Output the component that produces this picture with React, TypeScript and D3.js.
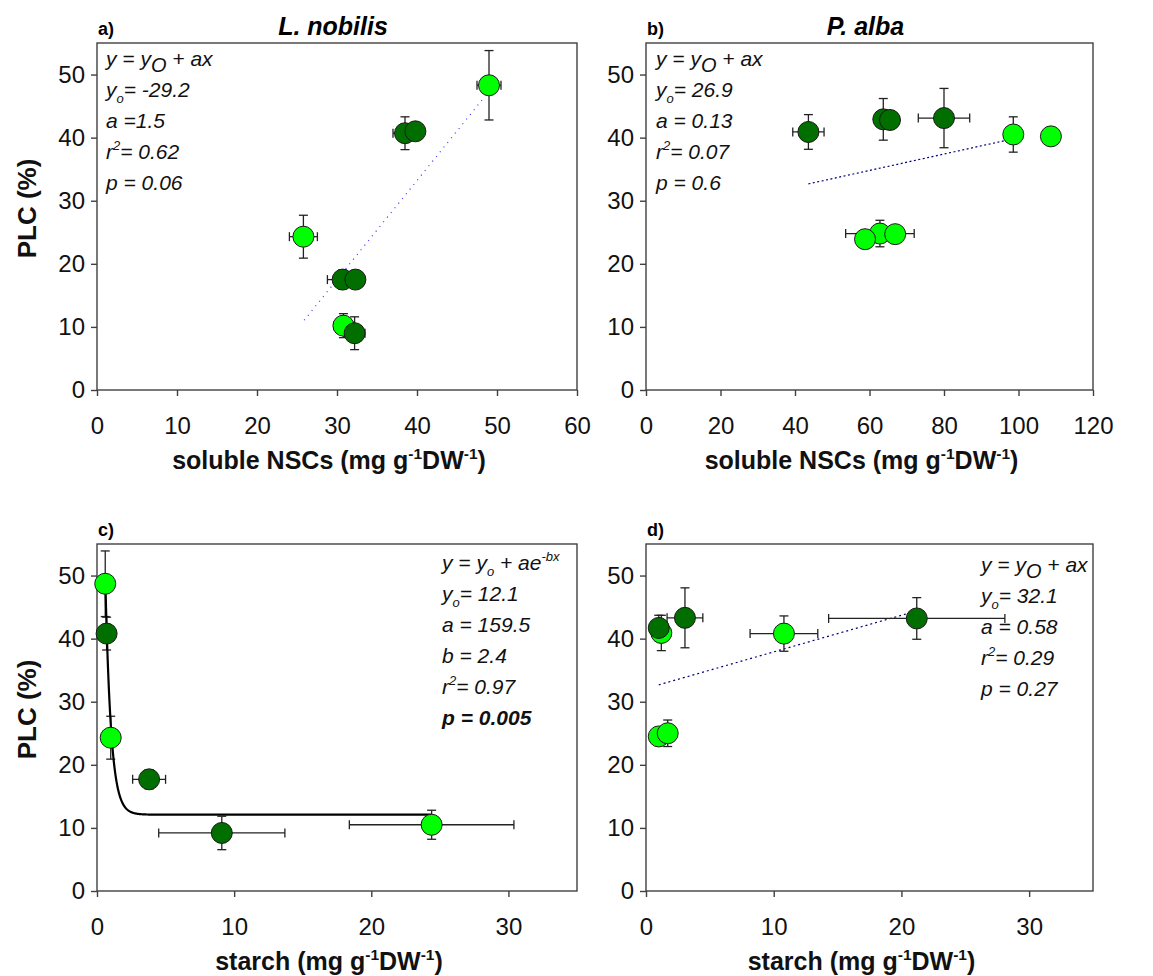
import React, { useEffect, useRef } from 'react';
import * as d3 from 'd3';

const LIGHT = '#00ff00';
const DARK = '#006f00';
const FONT = '"Liberation Sans", Arial, sans-serif';

// points: [x, y, xErr, yErr, group]  group 'l' = light green, 'd' = dark green
const nobilisNsc = [
  [49.0, 48.3, 1.5, 5.5, 'l'],
  [38.5, 40.7, 1.5, 2.6, 'd'],
  [39.8, 41.0, 0, 0, 'd'],
  [25.8, 24.3, 1.75, 3.4, 'l'],
  [30.7, 17.5, 1.9, 1.5, 'd'],
  [32.3, 17.5, 0, 0, 'd'],
  [30.8, 10.2, 1.2, 1.9, 'l'],
  [32.2, 9.0, 1.3, 2.6, 'd'],
];

const albaNsc = [
  [43.6, 40.9, 4.2, 2.75, 'd'],
  [63.7, 42.9, 2.2, 3.3, 'd'],
  [65.5, 42.8, 0, 0, 'd'],
  [80.0, 43.1, 6.9, 4.7, 'd'],
  [98.6, 40.5, 0, 2.8, 'l'],
  [108.7, 40.2, 0, 0, 'l'],
  [62.8, 24.8, 9.2, 2.1, 'l'],
  [58.8, 23.9, 0, 0, 'l'],
  [66.9, 24.7, 0, 0, 'l'],
];

const nobilisStarch = [
  [0.6, 48.7, 0, 5.2, 'l'],
  [0.7, 40.8, 0, 2.6, 'd'],
  [1.0, 24.3, 0, 3.4, 'l'],
  [3.8, 17.7, 1.2, 1.5, 'd'],
  [9.1, 9.2, 4.6, 2.65, 'd'],
  [24.4, 10.5, 6.0, 2.3, 'l'],
];

const albaStarch = [
  [1.2, 40.9, 0, 2.8, 'l'],
  [1.0, 41.7, 0, 2.0, 'd'],
  [3.05, 43.3, 1.4, 4.75, 'd'],
  [10.8, 40.8, 2.65, 2.8, 'l'],
  [21.2, 43.2, 6.9, 3.3, 'd'],
  [1.0, 24.5, 0, 0, 'l'],
  [1.7, 25.0, 0, 2.1, 'l'],
];

// fitted models: [yo, a, b, xFrom, xTo]
const fitA = [-29.6, 1.57, 0, 25.9, 48.5];
const fitB = [27.0, 0.13, 0, 43.6, 98.6];
const fitC = [12.1, 159.5, 2.4, 0.6, 24.4];
const fitD = [32.1, 0.58, 0, 1.0, 21.2];

// annotation text, _{} small subscript, ~{} large subscript, ^{} superscript, ** bold line
const notesA = ['y = y~{O} + ax', 'y_{o}= -29.2', 'a =1.5', 'r^{2}= 0.62', 'p = 0.06'];
const notesB = ['y = y~{O} + ax', 'y_{o}= 26.9', 'a = 0.13', 'r^{2}= 0.07', 'p = 0.6'];
const notesC = ['y = y_{o} + ae^{-bx}', 'y_{o}= 12.1', 'a = 159.5', 'b = 2.4', 'r^{2}= 0.97', '**p = 0.005'];
const notesD = ['y = y~{O} + ax', 'y_{o}= 32.1', 'a = 0.58', 'r^{2}= 0.29', 'p = 0.27'];

const yTicks = [0, 10, 20, 30, 40, 50];
const nscTicksA = [0, 10, 20, 30, 40, 50, 60];
const nscTicksB = [0, 20, 40, 60, 80, 100, 120];
const starchTicks = [0, 10, 20, 30];

const panels = [
  { id: 'a)', title: 'L. nobilis', pts: nobilisNsc, fit: fitA, kind: 'lin', notes: notesA, noteX: 9, noteY: 23,
    box: [97, 43, 577, 390], xMax: 60, xTicks: nscTicksA, xTitle: 'soluble NSCs (mg g^{-1}DW^{-1})', yTitle: true,
    dots: { color: '#3a3aff', dash: '1,5' } },
  { id: 'b)', title: 'P. alba', pts: albaNsc, fit: fitB, kind: 'lin', notes: notesB, noteX: 10, noteY: 23,
    box: [646, 43, 1093, 390], xMax: 120, xTicks: nscTicksB, xTitle: 'soluble NSCs (mg g^{-1}DW^{-1})', yTitle: false,
    dots: { color: '#00007a', dash: '2,2.5' } },
  { id: 'c)', title: '', pts: nobilisStarch, fit: fitC, kind: 'exp', notes: notesC, noteX: 345, noteY: 26,
    box: [97, 544, 577, 891], xMax: 35, xTicks: starchTicks, xTitle: 'starch (mg g^{-1}DW^{-1})', yTitle: true,
    dots: null },
  { id: 'd)', title: '', pts: albaStarch, fit: fitD, kind: 'lin', notes: notesD, noteX: 335, noteY: 28,
    box: [646, 544, 1093, 891], xMax: 35, xTicks: starchTicks, xTitle: 'starch (mg g^{-1}DW^{-1})', yTitle: false,
    dots: { color: '#00007a', dash: '2,3' } },
];

const parseRich = (s) => {
  const parts = [];
  const re = /([_^~])\{([^}]*)\}/g;
  let last = 0;
  let m;
  while ((m = re.exec(s))) {
    if (m.index > last) parts.push({ t: s.slice(last, m.index), k: '' });
    parts.push({ t: m[2], k: m[1] });
    last = re.lastIndex;
  }
  if (last < s.length) parts.push({ t: s.slice(last), k: '' });
  return parts;
};

const addRich = (text, s, size) => {
  let shift = 0;
  parseRich(s).forEach(p => {
    let target = 0;
    let fs = size;
    if (p.k === '_') { target = size * 0.28; fs = size * 0.62; }
    if (p.k === '^') { target = -size * 0.42; fs = size * 0.62; }
    if (p.k === '~') { target = size * 0.28; fs = size * 0.95; }
    text.append('tspan').attr('dy', target - shift).attr('font-size', fs).text(p.t);
    shift = target;
  });
};

const App = () => {
  const ref = useRef(null);

  useEffect(() => {
    const svg = d3.select(ref.current);
    svg.selectAll('*').remove();

    panels.forEach(p => {
      const [x0, y0, x1, y1] = p.box;
      const x = d3.scaleLinear().domain([0, p.xMax]).range([x0, x1]);
      const y = d3.scaleLinear().domain([0, 55]).range([y1, y0]);
      const g = svg.append('g');

      // frame
      g.append('rect')
        .attr('x', x0).attr('y', y0).attr('width', x1 - x0).attr('height', y1 - y0)
        .attr('fill', 'none').attr('stroke', '#404040').attr('stroke-width', 1.4);

      const xAxis = g.append('g')
        .attr('transform', `translate(0,${y1})`)
        .call(d3.axisBottom(x).tickValues(p.xTicks).tickSize(6).tickPadding(21).tickFormat(d3.format('d')));
      const yAxis = g.append('g')
        .attr('transform', `translate(${x0},0)`)
        .call(d3.axisLeft(y).tickValues(yTicks).tickSize(6).tickPadding(6).tickFormat(d3.format('d')));
      [xAxis, yAxis].forEach(a => {
        a.select('.domain').remove();
        a.selectAll('.tick line').attr('stroke', '#404040').attr('stroke-width', 1.4);
        a.selectAll('.tick text').attr('font-family', FONT).attr('font-size', 24).attr('fill', '#111');
      });

      // regression / fit line
      const [yo, fa, fb, xa, xb] = p.fit;
      if (p.kind === 'lin') {
        g.append('line')
          .attr('x1', x(xa)).attr('y1', y(yo + fa * xa))
          .attr('x2', x(xb)).attr('y2', y(yo + fa * xb))
          .attr('stroke', p.dots.color).attr('stroke-width', 1.2).attr('stroke-dasharray', p.dots.dash);
      }

      // error bars
      const eb = g.append('g').attr('stroke', '#222').attr('stroke-width', 1.3);
      p.pts.forEach(([px, py, ex, ey]) => {
        if (ey > 0) {
          eb.append('line').attr('x1', x(px)).attr('x2', x(px)).attr('y1', y(py - ey)).attr('y2', y(py + ey));
          [py - ey, py + ey].forEach(v => eb.append('line')
            .attr('x1', x(px) - 4.5).attr('x2', x(px) + 4.5).attr('y1', y(v)).attr('y2', y(v)));
        }
        if (ex > 0) {
          eb.append('line').attr('y1', y(py)).attr('y2', y(py)).attr('x1', x(px - ex)).attr('x2', x(px + ex));
          [px - ex, px + ex].forEach(v => eb.append('line')
            .attr('y1', y(py) - 4.5).attr('y2', y(py) + 4.5).attr('x1', x(v)).attr('x2', x(v)));
        }
      });

      if (p.kind === 'exp') {
        const xs = d3.range(xa, xb + 0.001, 0.02);
        const line = d3.line().x(d => x(d)).y(d => y(yo + fa * Math.exp(-fb * d)));
        g.append('path').attr('d', line(xs)).attr('fill', 'none').attr('stroke', '#000').attr('stroke-width', 2.2);
      }

      g.selectAll('circle.pt')
        .data(p.pts)
        .enter()
        .append('circle')
        .attr('class', 'pt')
        .attr('cx', d => x(d[0]))
        .attr('cy', d => y(d[1]))
        .attr('r', 10.5)
        .attr('fill', d => (d[4] === 'l' ? LIGHT : DARK))
        .attr('stroke', '#1a1a1a')
        .attr('stroke-width', 1);

      // annotations
      p.notes.forEach((n, i) => {
        const bold = n.startsWith('**');
        const t = g.append('text')
          .attr('x', x0 + p.noteX).attr('y', y0 + p.noteY + i * 31)
          .attr('font-family', FONT).attr('font-style', 'italic')
          .attr('font-weight', bold ? 'bold' : 'normal')
          .attr('font-size', 21).attr('fill', '#111')
          .style('white-space', 'pre');
        addRich(t, bold ? n.slice(2) : n, 21);
      });

      // panel letter and title
      g.append('text').attr('x', x0 + 1).attr('y', y0 - 8)
        .attr('font-family', FONT).attr('font-weight', 'bold').attr('font-size', 18).text(p.id);
      if (p.title) {
        g.append('text').attr('x', (x0 + x1) / 2 - 4).attr('y', y0 - 8).attr('text-anchor', 'middle')
          .attr('font-family', FONT).attr('font-weight', 'bold').attr('font-style', 'italic')
          .attr('font-size', 25).text(p.title);
      }

      // axis titles
      const xt = g.append('text')
        .attr('x', (x0 + x1) / 2 - 8).attr('y', y1 + 79).attr('text-anchor', 'middle')
        .attr('font-family', FONT).attr('font-weight', 'bold').attr('font-size', 25).attr('fill', '#111')
        .style('white-space', 'pre');
      addRich(xt, p.xTitle, 25);

      if (p.yTitle) {
        g.append('text')
          .attr('transform', `translate(36,${(y0 + y1) / 2 - 8}) rotate(-90)`)
          .attr('text-anchor', 'middle')
          .attr('font-family', FONT).attr('font-weight', 'bold').attr('font-size', 26).attr('fill', '#111')
          .text('PLC (%)');
      }
    });
  }, []);

  return (
    <svg ref={ref} width={1153} height={976}
      style={{ position: 'absolute', left: 0, top: 0, background: '#fff' }} />
  );
};

export default App;
